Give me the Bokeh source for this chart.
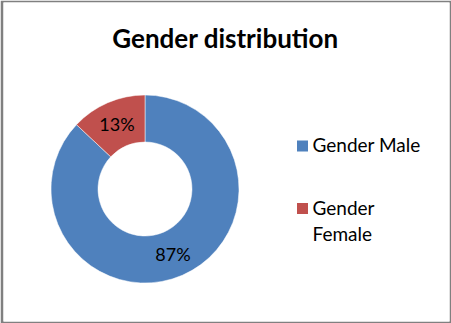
import math
import textwrap
from bokeh.plotting import figure
from bokeh.models import Range1d, ColumnDataSource
from bokeh.core.properties import value
from bokeh.embed import file_html
from bokeh.resources import INLINE

# ---- data ----
title_text = "Gender distribution"
categories = ["Gender Male", "Gender Female"]
percents = [87, 13]
colors = ["#4F81BD", "#C0504D"]

W, H = 451, 323
FONT = "Lato"

p = figure(width=W, height=H, output_backend="svg", toolbar_location=None,
           x_range=Range1d(3, W - 2), y_range=Range1d(2, H - 2),
           min_border_left=3, min_border_right=2, min_border_top=2, min_border_bottom=2)
p.axis.visible = False
p.grid.visible = False
p.outline_line_color = None
p.border_fill_color = "#808080"
p.background_fill_color = "white"

# donut geometry (layout)
cx, cy = 144.5, H - 188.5
r_in, r_out = 47, 94

total = float(sum(percents))
starts, ends, lx, ly, labels = [], [], [], [], []
cum = 0.0
for v in percents:
    f0 = cum / total
    f1 = (cum + v) / total
    cum += v
    # clockwise from 12 o'clock -> bokeh anticlock angles
    s = math.pi / 2 - f1 * 2 * math.pi
    e = math.pi / 2 - f0 * 2 * math.pi
    starts.append(s)
    ends.append(e)
    mid = (s + e) / 2
    rm = (r_in + r_out) / 2
    lx.append(cx + rm * math.cos(mid))
    ly.append(cy + rm * math.sin(mid))
    labels.append(f"{v}%")

src = ColumnDataSource(dict(start=starts, end=ends, color=colors, lx=lx, ly=ly, label=labels))
p.annular_wedge(x=cx, y=cy, inner_radius=r_in, outer_radius=r_out,
                start_angle="start", end_angle="end", color="color",
                line_color="white", line_width=0.5, source=src)
p.text(x="lx", y="ly", text="label", source=src, text_font=value(FONT),
       text_font_size="18px", text_align="center", text_baseline="middle",
       text_color="black")

# title
p.text(x=[225], y=[H - 37], text=[title_text], text_font=value(FONT),
       text_font_style="bold", text_font_size="26px", text_align="center",
       text_baseline="middle", text_color="black")

# legend
leg_x, leg_y0, leg_dy = 302, H - 145.5, 62.5
ky = [leg_y0 - i * leg_dy for i in range(len(categories))]
kx = [leg_x] * len(categories)
p.scatter(x=kx, y=ky, marker="square", size=11, color=colors, line_color=None)
wrapped = ["\n".join(textwrap.wrap(c, 11)) for c in categories]
p.text(x=[leg_x + 10] * len(categories), y=[y + 13 for y in ky], text=wrapped,
       text_font=value(FONT), text_font_size="19px", text_align="left",
       text_baseline="top", text_color="black", text_line_height=1.15)

open("out.html", "w").write(file_html(p, INLINE))
